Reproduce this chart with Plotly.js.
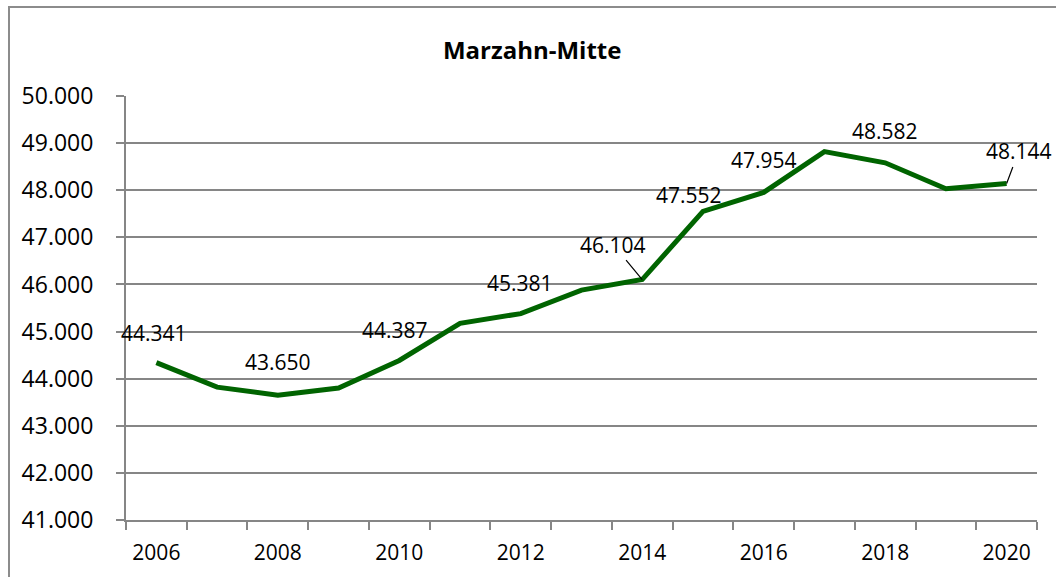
<!DOCTYPE html>
<html>
<head>
<meta charset="utf-8">
<script src="https://cdn.plot.ly/plotly-3.0.1.min.js"></script>
<style>
  html, body { margin: 0; padding: 0; background: #fff; overflow: hidden; }
  #frame { position: absolute; left: 8px; top: 6px; width: 1200px; height: 700px; border: 2px solid #8c8c8c; box-sizing: border-box; }
  #chart { position: absolute; left: 0; top: 0; width: 1056px; height: 577px; }
</style>
</head>
<body>
<div id="frame"></div>
<div id="chart"></div>
<script>
const years = [2006, 2007, 2008, 2009, 2010, 2011, 2012, 2013, 2014, 2015, 2016, 2017, 2018, 2019, 2020];
const population = [44341, 43820, 43650, 43800, 44387, 45175, 45381, 45880, 46104, 47552, 47954, 48820, 48582, 48030, 48144];
const labelYears = [2006, 2008, 2010, 2012, 2014, 2015, 2016, 2018, 2020];
const labelText = ['44.341', '43.650', '44.387', '45.381', '46.104', '47.552', '47.954', '48.582', '48.144'];
const tickYears = [2006, 2008, 2010, 2012, 2014, 2016, 2018, 2020];
const tickLabels = ['2006', '2008', '2010', '2012', '2014', '2016', '2018', '2020'];
const chartTitle = 'Marzahn-Mitte';

// label placement (pixel offsets from the point), and whether a leader line is drawn
const labelOffsets = {
  2006: [-2, -30, false], 2008: [0, -33, false], 2010: [-4, -30, false],
  2012: [-1, -31, false], 2014: [-29, -35, true], 2015: [-14, -16, false],
  2016: [0, -32, false], 2018: [0, -32, false], 2020: [12, -32, true]
};

const font = 'Open Sans, sans-serif';

const annotations = labelYears.map((yr, i) => {
  const idx = years.indexOf(yr);
  const off = labelOffsets[yr];
  const base = {
    x: yr, y: population[idx], xref: 'x', yref: 'y',
    text: labelText[i],
    font: { family: font, size: 21, color: '#000' }
  };
  if (off[2]) {
    return Object.assign(base, {
      showarrow: true, arrowhead: 0, arrowwidth: 1.2, arrowcolor: '#000',
      ax: off[0], ay: off[1], standoff: 0, startstandoff: 0
    });
  }
  return Object.assign(base, { showarrow: false, xshift: off[0], yshift: -off[1] });
});

const trace = {
  x: years, y: population, type: 'scatter', mode: 'lines',
  line: { color: '#006400', width: 5 },
  hoverinfo: 'skip'
};

const layout = {
  width: 1056, height: 577,
  paper_bgcolor: 'rgba(0,0,0,0)', plot_bgcolor: 'rgba(0,0,0,0)',
  margin: { l: 126, r: 19, t: 96, b: 57 },
  separators: ',.',
  showlegend: false,
  title: {
    text: '<b>' + chartTitle + '</b>',
    font: { family: font, size: 24, color: '#000' },
    x: 0.504, xanchor: 'center', y: 0.913, yanchor: 'middle'
  },
  xaxis: {
    range: [2005.5, 2020.5],
    tickmode: 'array', tickvals: tickYears, ticktext: tickLabels,
    ticks: 'outside', ticklen: 0, tickcolor: '#868686',
    tickfont: { family: font, size: 21, color: '#000' },
    showgrid: false, zeroline: false,
    showline: true, linecolor: '#868686', linewidth: 2,
    ticklabelstandoff: 13,
    minor: { tickmode: 'linear', tick0: 2005.5, dtick: 1, ticks: 'outside', ticklen: 8, tickwidth: 2, tickcolor: '#868686', showgrid: false },
    fixedrange: true
  },
  yaxis: {
    range: [41000, 50000], dtick: 1000, tick0: 41000,
    tickformat: ',d',
    ticks: 'outside', ticklen: 8, tickwidth: 2, tickcolor: '#868686',
    tickfont: { family: font, size: 23, color: '#000' },
    showgrid: true, gridcolor: '#868686', gridwidth: 2,
    zeroline: false,
    showline: true, linecolor: '#868686', linewidth: 2,
    ticklabelstandoff: 18,
    fixedrange: true
  },
  annotations: annotations
};

Plotly.newPlot('chart', [trace], layout, { displayModeBar: false, staticPlot: true });
</script>
</body>
</html>
